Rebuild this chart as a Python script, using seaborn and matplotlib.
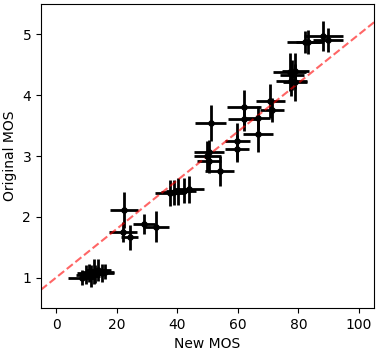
import numpy as np
import pandas as pd
import matplotlib
matplotlib.use("Agg")
import matplotlib.pyplot as plt
import seaborn as sns

# values
new_mos = [8.5, 10, 11, 11.5, 12.5, 13, 14, 15, 16,
           22.4, 22.1, 24.3, 29.1, 33.0,
           37.5, 38.8, 40.4, 42.1, 43.8,
           51.0, 50.4, 49.9, 50.5, 54.0, 59.9, 59.7, 62.1, 61.9, 66.8, 66.6, 70.8, 71.2,
           77.1, 77.9, 77.7, 79.0, 78.8, 82.1, 83.2, 88.2, 89.7]
orig_mos = [1.0, 1.05, 1.08, 1.02, 1.1, 1.06, 1.12, 1.08, 1.1,
            2.11, 1.75, 1.66, 1.88, 1.84,
            2.39, 2.40, 2.42, 2.43, 2.45,
            3.54, 3.06, 3.0, 2.92, 2.75, 3.24, 3.12, 3.80, 3.61, 3.63, 3.37, 3.90, 3.76,
            4.38, 4.33, 4.24, 4.40, 4.21, 4.87, 4.87, 4.97, 4.91]
new_err = [4.5, 3.5, 4, 3, 4, 3.5, 4, 4, 3,
           4.5, 4.5, 2.8, 3.6, 4.3,
           5, 4, 4, 4, 5,
           5, 5, 4.5, 4, 4.8, 4.2, 4, 5.5, 5, 4, 5, 4.8, 4,
           5.5, 4, 5, 4.5, 4, 6, 4, 6.5, 5]
orig_err = [0.12, 0.15, 0.15, 0.18, 0.2, 0.15, 0.18, 0.15, 0.12,
            0.3, 0.17, 0.2, 0.17, 0.26,
            0.22, 0.2, 0.22, 0.2, 0.22,
            0.3, 0.2, 0.25, 0.2, 0.25, 0.3, 0.22, 0.29, 0.2, 0.2, 0.3, 0.28, 0.2,
            0.31, 0.25, 0.25, 0.3, 0.3, 0.18, 0.2, 0.25, 0.2]

df = pd.DataFrame({"new": new_mos, "orig": orig_mos, "xerr": new_err, "yerr": orig_err})

fig, ax = plt.subplots(figsize=(3.79, 3.51), dpi=100)
fig.subplots_adjust(left=0.108, right=0.987, bottom=0.1225, top=0.9886)

ax.errorbar(df["new"], df["orig"], xerr=df["xerr"], yerr=df["yerr"],
            fmt="none", ecolor="black", elinewidth=2, zorder=2)
sns.scatterplot(data=df, x="new", y="orig", color="black", s=22, linewidth=0, ax=ax, zorder=4)

line_x = np.array([-5, 105])
sns.lineplot(x=line_x, y=1 + line_x / 25, color="red", alpha=0.6, linestyle="--", ax=ax)

ax.set_xlim(-5, 105)
ax.set_ylim(0.5, 5.5)
ax.set_xticks([0, 20, 40, 60, 80, 100])
ax.set_yticks([1, 2, 3, 4, 5])
ax.set_xlabel("New MOS")
ax.set_ylabel("Original MOS")

plt.savefig("out.png", dpi=100)
